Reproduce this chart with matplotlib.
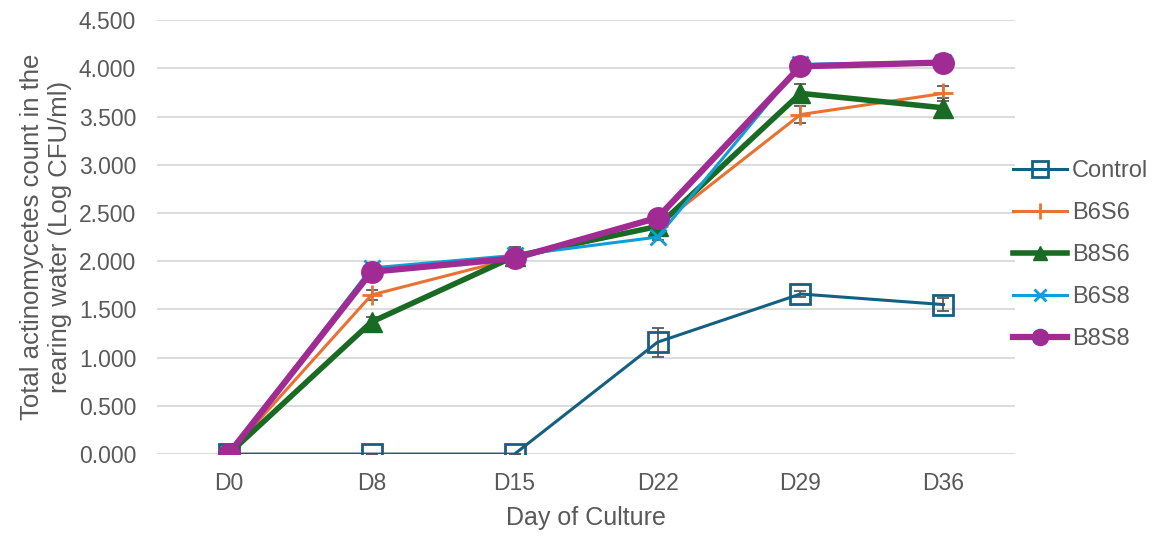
import matplotlib.pyplot as plt
from matplotlib.ticker import FormatStrFormatter

plt.rcParams['font.family'] = ['Liberation Sans', 'DejaVu Sans']

days = ['D0', 'D8', 'D15', 'D22', 'D29', 'D36']

control = [0.0, 0.0, 0.0, 1.16, 1.66, 1.55]
b6s6 = [0.0, 1.65, 2.03, 2.36, 3.52, 3.74]
b8s6 = [0.0, 1.37, 2.05, 2.36, 3.74, 3.59]
b6s8 = [0.0, 1.93, 2.06, 2.25, 4.04, 4.07]
b8s8 = [0.0, 1.89, 2.03, 2.45, 4.02, 4.06]

control_err = [0.0, 0.0, 0.0, 0.15, 0.03, 0.07]
b6s6_err = [0.0, 0.05, 0.03, 0.03, 0.09, 0.08]
b8s6_err = [0.0, 0.05, 0.1, 0.03, 0.1, 0.1]
b6s8_err = [0.0, 0.03, 0.03, 0.03, 0.03, 0.03]
b8s8_err = [0.0, 0.03, 0.03, 0.03, 0.03, 0.03]

series = [
    ('Control', control, control_err, '#156082', 's', 2.2, 15, 'none'),
    ('B6S6', b6s6, b6s6_err, '#E97132', '+', 2.2, 15, None),
    ('B8S6', b8s6, b8s6_err, '#196B24', '^', 4.0, 14, None),
    ('B6S8', b6s8, b6s8_err, '#0F9ED5', 'x', 2.2, 12, None),
    ('B8S8', b8s8, b8s8_err, '#A02B93', 'o', 4.5, 15.5, None),
]

fig = plt.figure(figsize=(11.58, 5.38), dpi=100)
ax = fig.add_axes([0.1356, 0.156, 0.7409, 0.8067])
x = list(range(len(days)))

handles = []
for name, vals, err, col, mk, lw, ms, mfc in series:
    ax.errorbar(x, vals, yerr=err, fmt='none', ecolor='#595959', elinewidth=1.3,
                capsize=4.5, capthick=1.3, zorder=2)
    kw = dict(markerfacecolor=mfc) if mfc else {}
    h, = ax.plot(x, vals, color=col, lw=lw, marker=mk, markersize=ms,
                 markeredgewidth=2 if mk in ('s', '+', 'x') else 1, label=name,
                 zorder=3, **kw)
    handles.append(h)

ax.set_xlim(-0.5, len(days) - 0.5)
ax.set_ylim(0, 4.5)
ax.set_yticks([i * 0.5 for i in range(10)])
ax.yaxis.set_major_formatter(FormatStrFormatter('%.3f'))
ax.set_xticks(x)
ax.set_xticklabels(days)
ax.grid(axis='y', color='#d9d9d9', lw=1.3)
ax.set_axisbelow(True)
for s in ax.spines.values():
    s.set_visible(False)
ax.tick_params(length=0, labelsize=16.5, colors='#595959')
ax.tick_params(axis='y', pad=15)
ax.tick_params(axis='x', pad=13)

ax.set_xlabel('Day of Culture', fontsize=18, color='#595959', labelpad=8)
ax.set_ylabel('Total actinomycetes count in the\nrearing water (Log CFU/ml)',
              fontsize=18.5, color='#595959', labelpad=5, linespacing=1.2)

fig.legend(handles=handles, loc='center left', bbox_to_anchor=(0.8748, 0.526),
           frameon=False, fontsize=17, labelcolor='#595959', handlelength=2.3,
           handletextpad=0.2, labelspacing=0.85, markerscale=0.75,
           borderaxespad=0, borderpad=0)

fig.savefig('out.png', dpi=100)
